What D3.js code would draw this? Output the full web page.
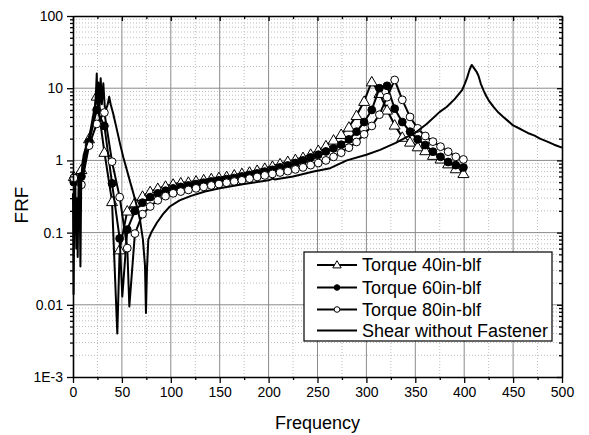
<!DOCTYPE html>
<html><head><meta charset="utf-8">
<script src="https://cdn.jsdelivr.net/npm/d3@7"></script>
<style>
body{margin:0;background:#fff}
svg{display:block}
text{font-family:Arial,"Liberation Sans",sans-serif;fill:#000}
</style>
</head><body>
<svg id="chart" width="589" height="435"></svg>
<script>
// ---- data ----
const markerFreq = [0.8, 8.6, 16.4, 24.2, 32.1, 39.9, 47.7, 55.5, 63.3, 71.1, 78.9, 86.7, 94.6, 102.4, 110.2, 118, 125.8, 133.6, 141.4, 149.2, 157.1, 164.9, 172.7, 180.5, 188.3, 196.1, 203.9, 211.7, 219.6, 227.4, 235.2, 243, 250.8, 258.6, 266.4, 274.2, 282.1, 289.9, 297.7, 305.5, 313.3, 321.1, 328.9, 336.7, 344.6, 352.4, 360.2, 368, 375.8, 383.6, 391.4, 399.2];
const torque40 = [0.6, 0.75, 2.0, 7.8, 1.3, 0.27, 0.058, 0.2, 0.26, 0.32, 0.37, 0.41, 0.44, 0.47, 0.49, 0.5, 0.52, 0.54, 0.56, 0.58, 0.6, 0.63, 0.66, 0.69, 0.73, 0.78, 0.83, 0.9, 0.97, 1.03, 1.1, 1.22, 1.38, 1.6, 1.92, 2.3, 2.9, 4.2, 6.6, 12.3, 8.5, 5.0, 3.1, 2.1, 1.8, 1.55, 1.37, 1.18, 1.05, 0.9, 0.77, 0.66];
const torque60 = [0.5, 0.6, 1.8, 5.0, 3.0, 0.48, 0.083, 0.11, 0.2, 0.26, 0.31, 0.35, 0.38, 0.41, 0.43, 0.45, 0.47, 0.49, 0.51, 0.53, 0.55, 0.57, 0.6, 0.63, 0.66, 0.7, 0.74, 0.8, 0.85, 0.92, 1.0, 1.1, 1.2, 1.33, 1.47, 1.65, 1.95, 2.5, 3.4, 5.0, 10.0, 10.8, 5.2, 3.4, 2.5, 1.96, 1.63, 1.32, 1.12, 0.95, 0.86, 0.8];
const torque80 = [0.57, 0.46, 1.6, 3.2, 4.6, 0.96, 0.31, 0.061, 0.097, 0.18, 0.23, 0.28, 0.32, 0.35, 0.37, 0.39, 0.41, 0.43, 0.45, 0.47, 0.49, 0.51, 0.53, 0.56, 0.59, 0.62, 0.65, 0.68, 0.71, 0.75, 0.8, 0.86, 0.92, 1.0, 1.12, 1.28, 1.5, 1.8, 2.3, 3.0, 4.3, 7.5, 13.0, 6.9, 4.0, 2.78, 2.18, 1.82, 1.55, 1.32, 1.12, 1.03];
// line-only points (no symbol) where the traces spike down between symbols
const spike40Freq = [45.3], spike40Frf = [0.004];
const spike60Freq = [50.4], spike60Frf = [0.013];
const spike80Freq = [57.6], spike80Frf = [0.0095];

const shearFreq = [0, 0.6, 1.4, 2.4, 3.4, 4.2, 4.8, 5.6, 6.6, 7.6, 8.4, 9.6, 11, 13, 15, 17, 19, 21, 22.5, 23.5, 24.3, 25, 26, 27, 28.3, 29.5, 31, 32.5, 34, 35.5, 37, 38.5, 41, 44.5, 48, 51.5, 55, 58.5, 61.7, 65, 68.5, 71.5, 73.6, 74.6, 75.6, 77, 80, 85.6, 92, 99, 109, 120, 135, 150, 175, 200, 204.5, 206, 225, 246, 263, 280, 300, 314, 330, 341, 348, 361.6, 375, 382, 390, 395.7, 398, 400.8, 403, 405.5, 407.7, 410, 412.5, 414.5, 417, 420, 422.5, 425, 430, 435, 440, 445, 450, 458, 465, 472, 477.5, 485, 492, 500];
const shearFrf = [0.35, 0.014, 0.35, 0.45, 0.06, 0.3, 0.046, 0.4, 0.55, 0.034, 0.5, 0.9, 1.2, 1.5, 1.8, 2.3, 2.8, 3.5, 5, 9, 16, 6, 12, 5, 13.7, 6, 11.7, 5.5, 5.2, 6, 7.6, 6, 4.5, 2.8, 1.72, 1.1, 0.74, 0.5, 0.35, 0.24, 0.15, 0.08, 0.035, 0.0077, 0.03, 0.08, 0.1, 0.136, 0.18, 0.23, 0.28, 0.32, 0.37, 0.41, 0.47, 0.53, 0.56, 0.545, 0.6, 0.7, 0.78, 1.0, 1.2, 1.4, 1.75, 2.1, 2.3, 3.2, 4.7, 5.5, 7.0, 8.7, 9.5, 11.7, 14, 18, 21, 19, 17, 15, 11.5, 9.2, 7.8, 6.8, 5.5, 4.6, 4.0, 3.5, 3.05, 2.7, 2.4, 2.2, 2.0, 1.82, 1.65, 1.5];

const seriesNames = ["Torque 40in-blf", "Torque 60in-blf", "Torque 80in-blf", "Shear without Fastener"];
const xMajorTicks = [0, 50, 100, 150, 200, 250, 300, 350, 400, 450, 500];
const xMinorTicks = [25, 75, 125, 175, 225, 275, 325, 375, 425, 475];
const yMajorTicks = [0.001, 0.01, 0.1, 1, 10, 100];
const yTickLabels = ["1E-3", "0.01", "0.1", "1", "10", "100"];

// ---- layout ----
const svg = d3.select("#chart");
const L = 73, R = 562, T = 16, B = 377;
const x = d3.scaleLinear().domain([0, 500]).range([L, R]);
const y = d3.scaleLog().domain([0.001, 100]).range([B, T]);

const yMinorTicks = [];
yMajorTicks.slice(0, -1).forEach(d => { for (let k = 2; k <= 9; k++) yMinorTicks.push(+(d * k).toPrecision(3)); });

// grid
const grid = svg.append("g");
grid.selectAll(".vmin").data(xMinorTicks).join("line")
  .attr("x1", d => x(d)).attr("x2", d => x(d)).attr("y1", T).attr("y2", B)
  .attr("stroke", "#bdbdbd").attr("stroke-width", 1).attr("stroke-dasharray", "1,2");
grid.selectAll(".hmin").data(yMinorTicks).join("line")
  .attr("x1", L).attr("x2", R).attr("y1", d => y(d)).attr("y2", d => y(d))
  .attr("stroke", "#bdbdbd").attr("stroke-width", 1).attr("stroke-dasharray", "1,2");
grid.selectAll(".vmaj").data(xMajorTicks.slice(1, -1)).join("line")
  .attr("x1", d => x(d)).attr("x2", d => x(d)).attr("y1", T).attr("y2", B)
  .attr("stroke", "#8a8a8a").attr("stroke-width", 1);
grid.selectAll(".hmaj").data(yMajorTicks.slice(1, -1)).join("line")
  .attr("x1", L).attr("x2", R).attr("y1", d => y(d)).attr("y2", d => y(d))
  .attr("stroke", "#8a8a8a").attr("stroke-width", 1);

// series
const plot = svg.append("g");
const line = d3.line().x(d => x(d[0])).y(d => y(d[1]));

function torqueSeries(vals, spF, spV) {
  const pts = markerFreq.map((f, i) => [f, vals[i]]);
  const all = pts.concat(spF.map((f, i) => [f, spV[i]])).sort((a, b) => a[0] - b[0]);
  return { pts, all };
}
const s40 = torqueSeries(torque40, spike40Freq, spike40Frf);
const s60 = torqueSeries(torque60, spike60Freq, spike60Frf);
const s80 = torqueSeries(torque80, spike80Freq, spike80Frf);

const triPath = d3.symbol().type(d3.symbolTriangle).size(52);
const triPathSmall = d3.symbol().type(d3.symbolTriangle).size(30);

function drawMarkers(g, pts, kind, r) {
  if (kind === "tri") {
    g.selectAll("path.m").data(pts).join("path").attr("class", "m")
      .attr("d", triPath())
      .attr("transform", d => `translate(${x(d[0])},${y(d[1]) + 1})`)
      .attr("fill", "#fff").attr("stroke", "#000").attr("stroke-width", 1);
  } else {
    g.selectAll("circle.m").data(pts).join("circle").attr("class", "m")
      .attr("cx", d => x(d[0])).attr("cy", d => y(d[1])).attr("r", r)
      .attr("fill", kind === "filled" ? "#000" : "#fff").attr("stroke", "#000").attr("stroke-width", 1);
  }
}

[[s40, "tri"], [s60, "filled"], [s80, "open"]].forEach(([s, kind]) => {
  const g = plot.append("g");
  g.append("path").datum(s.all).attr("d", line).attr("fill", "none")
    .attr("stroke", "#000").attr("stroke-width", 2).attr("stroke-linejoin", "round");
  drawMarkers(g, s.pts, kind, 3.9);
});
plot.append("path").datum(shearFreq.map((f, i) => [f, shearFrf[i]])).attr("d", line)
  .attr("fill", "none").attr("stroke", "#000").attr("stroke-width", 2).attr("stroke-linejoin", "round");

// axes
const axes = svg.append("g");
axes.append("g").attr("transform", `translate(0,${B})`)
  .call(d3.axisBottom(x).tickValues(xMajorTicks).tickSize(6).tickSizeOuter(0).tickPadding(4));
axes.append("g").attr("transform", `translate(0,${B})`)
  .call(d3.axisBottom(x).tickValues(xMinorTicks).tickSize(3).tickFormat(""))
  .call(g => g.select(".domain").remove());
axes.append("g").attr("transform", `translate(${L},0)`)
  .call(d3.axisLeft(y).tickValues(yMajorTicks).tickSize(6).tickSizeOuter(0).tickPadding(4)
    .tickFormat((d, i) => yTickLabels[i]));
axes.append("g").attr("transform", `translate(${L},0)`)
  .call(d3.axisLeft(y).tickValues(yMinorTicks).tickSize(3).tickFormat(""))
  .call(g => g.select(".domain").remove());
// mirrored top / right (inward ticks)
axes.append("g").attr("transform", `translate(0,${T})`)
  .call(d3.axisBottom(x).tickValues(xMajorTicks).tickSize(5).tickSizeOuter(0).tickFormat(""));
axes.append("g").attr("transform", `translate(0,${T})`)
  .call(d3.axisBottom(x).tickValues(xMinorTicks).tickSize(3).tickFormat(""))
  .call(g => g.select(".domain").remove());
axes.append("g").attr("transform", `translate(${R},0)`)
  .call(d3.axisLeft(y).tickValues(yMajorTicks).tickSize(5).tickSizeOuter(0).tickFormat(""));
axes.append("g").attr("transform", `translate(${R},0)`)
  .call(d3.axisLeft(y).tickValues(yMinorTicks).tickSize(3).tickFormat(""))
  .call(g => g.select(".domain").remove());
axes.selectAll(".domain").attr("stroke-width", 1.6);
axes.selectAll(".tick line").attr("stroke-width", 1.3);
axes.selectAll(".tick text").attr("font-size", 14).attr("font-family", "Arial, 'Liberation Sans', sans-serif");

// titles
svg.append("text").attr("x", (L + R) / 2).attr("y", 429).attr("text-anchor", "middle")
  .attr("font-size", 18).text("Frequency");
svg.append("text").attr("transform", "translate(28,205) rotate(-90)").attr("text-anchor", "middle")
  .attr("font-size", 19).text("FRF");

// legend
const lg = svg.append("g");
lg.append("rect").attr("x", 304).attr("y", 252).attr("width", 248).attr("height", 89)
  .attr("fill", "#fff").attr("stroke", "#000").attr("stroke-width", 1.2);
const kinds = ["tri", "filled", "open", "none"];
const rowY = [265, 287.5, 309.5, 330.5];
seriesNames.forEach((name, i) => {
  const g = lg.append("g");
  g.append("line").attr("x1", 317).attr("x2", 357).attr("y1", rowY[i]).attr("y2", rowY[i])
    .attr("stroke", "#000").attr("stroke-width", 2);
  if (kinds[i] === "tri") {
    g.append("path").attr("d", triPathSmall()).attr("transform", `translate(337,${rowY[i] + 0.5})`)
      .attr("fill", "#fff").attr("stroke", "#000").attr("stroke-width", 1);
  } else if (kinds[i] !== "none") {
    g.append("circle").attr("cx", 337).attr("cy", rowY[i]).attr("r", 2.8)
      .attr("fill", kinds[i] === "filled" ? "#000" : "#fff").attr("stroke", "#000").attr("stroke-width", 1);
  }
  g.append("text").attr("x", 362).attr("y", rowY[i]).attr("dy", "0.35em")
    .attr("font-size", 18).text(name);
});
</script>
</body></html>
